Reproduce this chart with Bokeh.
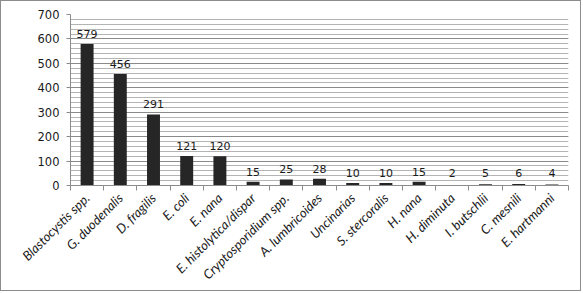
import math
from bokeh.plotting import figure
from bokeh.models import ColumnDataSource, FixedTicker, SingleIntervalTicker, Range1d
from bokeh.core.properties import value
from bokeh.embed import file_html
from bokeh.resources import INLINE

categories = ["Blastocystis spp.", "G. duodenalis", "D. fragilis", "E. coli", "E. nana",
              "E. histolytica/dispar", "Cryptosporidium spp.", "A. lumbricoides", "Uncinarias",
              "S. stercoralis", "H. nana", "H. diminuta", "I. butschlii", "C. mesnili", "E. hartmanni"]
counts = [579, 456, 291, 121, 120, 15, 25, 28, 10, 10, 15, 2, 5, 6, 4]

xs = list(range(1, len(categories) + 1))
label_y = [max(c, 10) for c in counts]
source = ColumnDataSource(dict(x=xs, top=counts, ly=label_y, txt=[str(c) for c in counts]))

W, H = 581, 291
p = figure(width=W, height=H, output_backend="svg", toolbar_location=None,
           x_range=Range1d(0.5, len(categories) + 0.5), y_range=Range1d(0, 700),
           min_border_left=69, min_border_right=W - 567, min_border_top=13,
           min_border_bottom=H - 184)
p.outline_line_color = None
p.background_fill_color = "white"
p.border_fill_color = "white"
p.styles = {"border": "1px solid #8c8c8c"}

p.vbar(x="x", top="top", width=0.39, source=source, fill_color="#262626", line_color=None)
p.text(x="x", y="ly", text="txt", source=source, y_offset=-6, text_align="center",
       text_baseline="bottom", text_font=value("DejaVu Sans"), text_font_size="11px",
       text_color="#1a1a1a")

# y axis
p.yaxis.ticker = SingleIntervalTicker(interval=100, num_minor_ticks=5)
p.yaxis.minor_tick_line_color = None
p.yaxis.major_tick_out = 4
p.yaxis.major_tick_in = 0
p.yaxis.axis_line_color = "#8c8c8c"
p.yaxis.major_tick_line_color = "#8c8c8c"
p.yaxis.major_label_text_font = "DejaVu Sans"
p.yaxis.major_label_text_font_size = "11.5px"
p.yaxis.major_label_text_color = "#1a1a1a"
p.yaxis.major_label_standoff = 7

p.ygrid.grid_line_color = "#8a8a8a"
p.ygrid.minor_grid_line_color = "#b4b4b4"
p.xgrid.grid_line_color = None

# x axis: names at category centres, tick marks at category boundaries
bounds = [i + 0.5 for i in range(0, len(categories) + 1)]
p.xaxis.ticker = FixedTicker(ticks=xs, minor_ticks=bounds)
p.xaxis.major_label_overrides = {x: c for x, c in zip(xs, categories)}
p.xaxis.major_label_orientation = math.pi / 4
p.xaxis.major_tick_line_color = None
p.xaxis.minor_tick_line_color = "#8c8c8c"
p.xaxis.minor_tick_out = 5
p.xaxis.minor_tick_in = 0
p.xaxis.axis_line_color = "#8c8c8c"
p.xaxis.major_label_text_font = "Lato"
p.xaxis.major_label_text_font_style = "italic"
p.xaxis.major_label_text_font_size = "13px"
p.xaxis.major_label_text_color = "#1a1a1a"
p.xaxis.major_label_standoff = 4

open("out.html", "w").write(file_html(p, INLINE))
